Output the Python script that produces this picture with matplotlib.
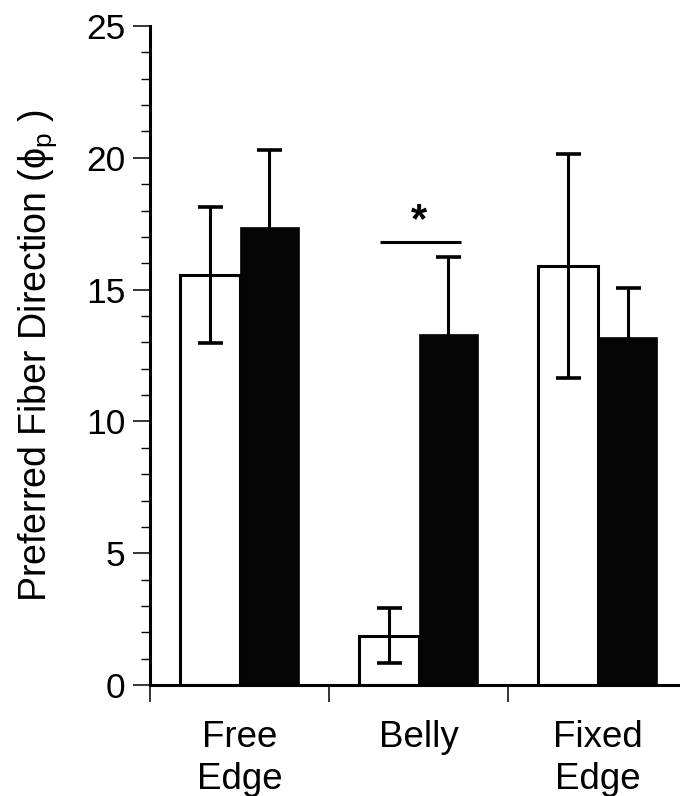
import matplotlib.pyplot as plt
import numpy as np

plt.rcParams['font.family'] = ['Liberation Sans', 'DejaVu Sans']
plt.rcParams['mathtext.fontset'] = 'custom'
plt.rcParams['mathtext.rm'] = 'Liberation Sans'

regions = ['Free\nEdge', 'Belly', 'Fixed\nEdge']
open_mean = [15.55, 1.87, 15.89]
open_err = [2.57, 1.05, 4.25]
filled_mean = [17.39, 13.32, 13.19]
filled_err = [2.9, 2.9, 1.86]

x = np.arange(len(regions))
w = 0.334

fig = plt.figure(figsize=(6.8, 7.96), dpi=100)
ax = fig.add_axes([0.2206, 0.1394, 0.7794, 0.8279])

ebar = dict(ecolor='black', elinewidth=2.2, capsize=9, capthick=2.6)

ax.bar(x - w / 2, open_mean, w, color='white', edgecolor='black',
       linewidth=2.2, yerr=open_err, error_kw=dict(ebar, zorder=3), zorder=2)
# filled bars sit over their own whiskers so only the upper half shows
ax.bar(x + w / 2, filled_mean, w, color='#050505', edgecolor='#050505',
       linewidth=0.5, yerr=filled_err, error_kw=dict(ebar, zorder=1), zorder=2)

# significance bar over the belly pair
ax.plot([1 - 0.215, 1 + 0.237], [16.8, 16.8], color='black', lw=2.2,
        solid_capstyle='butt')
ax.text(1.0, 17.6, '*', ha='center', va='center', fontsize=30,
        fontweight='bold')

ax.set_xlim(-0.5, 2.46)
ax.set_ylim(0, 25)

ax.set_yticks(np.arange(0, 26, 5))
ax.set_yticks(np.arange(0, 26, 1), minor=True)
ax.tick_params(axis='y', which='major', length=12.5, width=1.1,
               labelsize=25.5, pad=5)
ax.tick_params(axis='y', which='minor', length=6.5, width=1.0)

# group separators as major ticks, names as minor tick labels
ax.set_xticks([-0.5, 0.5, 1.5])
ax.set_xticklabels([])
ax.set_xticks(x, minor=True)
ax.set_xticklabels(regions, minor=True, fontsize=26.5, linespacing=1.28)
ax.tick_params(axis='x', which='major', length=12.5, width=1.1)
ax.tick_params(axis='x', which='minor', length=0, pad=25)

ax.set_ylabel('Preferred Fiber Direction (\u03d5$_\\mathregular{p}$ )',
              fontsize=27, labelpad=20)

for loc, spine in ax.spines.items():
    if loc in ['right', 'top']:
        spine.set_visible(False)
    else:
        spine.set_linewidth(2.2)

fig.savefig('out.png', dpi=100)
